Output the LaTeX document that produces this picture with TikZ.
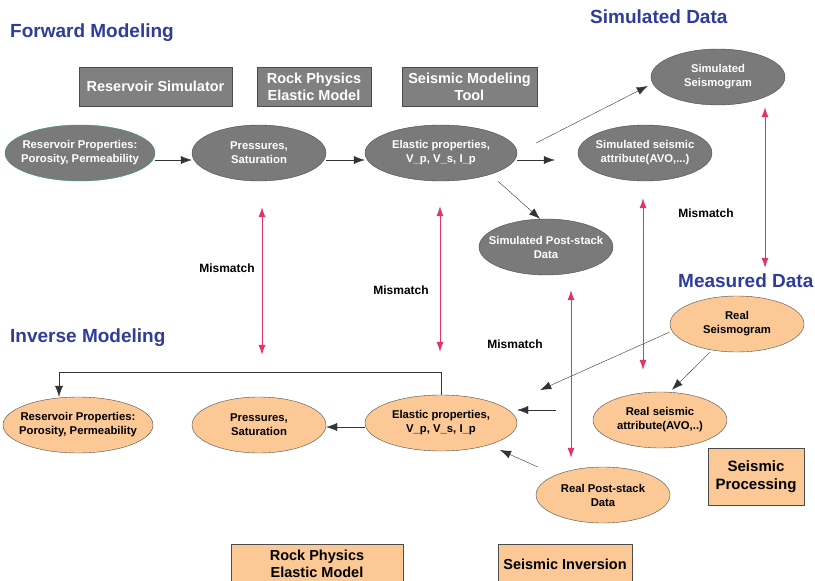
\documentclass[tikz,border=0pt]{standalone}
\usepackage{fontspec}
\setmainfont{Liberation Sans}
\usetikzlibrary{shapes.geometric,arrows.meta}
\definecolor{titleblue}{HTML}{2E3C9C}
\definecolor{simgray}{HTML}{7A7A7A}
\definecolor{boxgray}{HTML}{808080}
\definecolor{realorange}{HTML}{FBC896}
\definecolor{mispink}{HTML}{E2336C}
\definecolor{rimteal}{HTML}{3A8C8C}

\begin{document}
\begin{tikzpicture}[x=1pt,y=-1pt,
    title/.style={font=\fontsize{19}{21}\selectfont\bfseries,text=titleblue,anchor=west,inner sep=0},
    simnode/.style={ellipse,draw=black!70,fill=simgray,text=white,align=center,inner ysep=0,inner xsep=-6pt,
      minimum width=134pt,minimum height=56pt,font=\fontsize{11.3}{14}\selectfont\bfseries},
    realnode/.style={simnode,fill=realorange,text=black},
    toolbox/.style={draw=black!70,fill=boxgray,text=white,align=center,minimum height=39pt,
      font=\fontsize{14.5}{17}\selectfont\bfseries},
    procbox/.style={toolbox,fill=realorange,text=black},
    arr/.style={-{Latex[length=11pt,width=8pt]},black!80},
    mis/.style={{Latex[length=10pt,width=7pt]}-{Latex[length=10pt,width=7pt]},mispink,thick}]
  \useasboundingbox (0,0) rectangle (815,581);

  % titles
  \node[title] (fwdtitle) at (10,33) {Forward Modeling};
  \node[title] (simtitle) at (590,17) {Simulated Data};
  \node[title] (meastitle) at (678,281) {Measured Data};
  \node[title] (invtitle) at (10,338) {Inverse Modeling};

  % tools on top
  \node[toolbox,minimum width=153pt] (ressim) at (155.5,86.5) {Reservoir Simulator};
  \node[toolbox,minimum width=114pt] (rockfwd) at (314,86.5) {Rock Physics\\Elastic Model};
  \node[toolbox,minimum width=135pt] (seistool) at (469.5,86.5) {Seismic Modeling\\Tool};

  % forward chain
  \node[simnode,draw=rimteal,minimum width=150pt] (fres) at (80,153) {Reservoir Properties:\\Porosity, Permeability};
  \node[simnode] (fpress) at (259,153) {Pressures,\\Saturation};
  \node[simnode,minimum width=152pt] (felastic) at (441,153) {Elastic properties,\\V\_p, V\_s, I\_p};
  \node[simnode] (fattr) at (645,153) {Simulated seismic\\attribute(AVO,...)};
  \node[simnode] (fseis) at (718,77) {Simulated\\Seismogram};
  \node[simnode,inner xsep=-12pt] (fpost) at (546,247) {Simulated Post-stack\\Data};

  % inverse chain
  \node[realnode,minimum width=150pt] (ires) at (78,425) {Reservoir Properties:\\Porosity, Permeability};
  \node[realnode] (ipress) at (259,425) {Pressures,\\Saturation};
  \node[realnode,minimum width=152pt] (ielastic) at (441,423) {Elastic properties,\\V\_p, V\_s, I\_p};
  \node[realnode] (iattr) at (660,420) {Real seismic\\attribute(AVO,..)};
  \node[realnode] (rseis) at (737,324) {Real\\Seismogram};
  \node[realnode] (ipost) at (603,495) {Real Post-stack\\Data};

  % tools at the bottom
  \node[procbox,minimum width=96pt,minimum height=57pt,font=\fontsize{15}{18}\selectfont\bfseries]
    (proc) at (756,476.5) {Seismic\\Processing};
  \node[procbox,minimum width=172pt,minimum height=40pt] (rockinv) at (317,564) {Rock Physics\\Elastic Model};
  \node[procbox,minimum width=134pt,minimum height=40pt] (inversion) at (565,564) {Seismic Inversion};

  % forward arrows
  \draw[arr] ([yshift=-7pt]fres.east) -- ([yshift=-7pt]fpress.west);
  \draw[arr] ([yshift=-7pt]fpress.east) -- ([yshift=-7pt]felastic.west);
  \draw[arr,shorten >=23pt] ([yshift=-7pt]felastic.east) -- ([yshift=-7pt]fattr.west);
  \draw[arr] ([xshift=19pt,yshift=10pt]felastic.east) -- ([xshift=-3pt,yshift=-9pt]fseis.west);
  \draw[arr] ([xshift=57pt]felastic.south) -- ([xshift=-6pt]fpost.north);

  % inverse arrows
  \draw[arr] ([yshift=-4pt]ielastic.west) -- ([yshift=-2pt]ipress.east);
  \draw[arr,shorten <=37pt] ([yshift=10pt]iattr.west) -- ([yshift=13pt]ielastic.east);
  \draw[arr] ([yshift=-8pt]rseis.west) -- ([xshift=23pt,yshift=33pt]ielastic.east);
  \draw[arr] ([xshift=-27pt]rseis.south) -- ([xshift=12pt,yshift=2pt]iattr.north);
  \draw[arr] ([xshift=2pt,yshift=28pt]ipost.west) -- ([xshift=59pt,yshift=-27pt]ielastic.center);
  \draw[arr] (ielastic.north) -- ++(0,-23) -| ([xshift=-19pt]ires.north);

  % mismatch arrows
  \draw[mis,shorten <=26pt,shorten >=42pt] ([xshift=3pt]fpress.south) -- ([xshift=3pt]ipress.north);
  \draw[mis,shorten <=25pt,shorten >=43pt] ([xshift=-1pt]felastic.south) -- ([xshift=-1pt]felastic.south |- ielastic.north);
  \draw[mis,shorten <=15pt,shorten >=9pt] ([xshift=25pt]fpost.south) -- ([xshift=25pt]fpost.south |- ipost.north);
  \draw[mis,shorten <=17pt,shorten >=22pt] ([xshift=-2pt]fattr.south) -- ([xshift=-2pt]fattr.south |- iattr.north);
  \draw[mis,shorten <=2pt,shorten >=28pt] ([xshift=47pt]fseis.south) -- ([xshift=47pt]fseis.south |- rseis.north);

  \foreach \x/\y/\nm in {227/268/misa, 401/290/misb, 515/344/misc, 706/213/misd}
  {\node[font=\fontsize{12}{14}\selectfont\bfseries] (\nm) at (\x,\y) {Mismatch};
  };
\end{tikzpicture}
\end{document}
